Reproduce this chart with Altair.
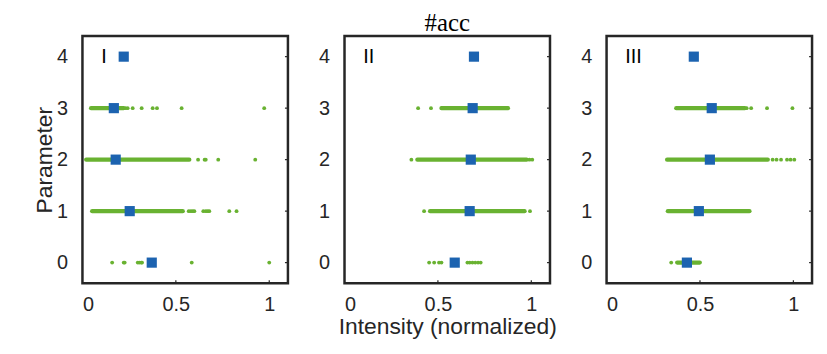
import altair as alt
import pandas as pd

# ---------------- data ----------------
PANELS = ["I", "II", "III"]
PARAMS = [0, 1, 2, 3, 4]
X_TICKS = [0, 0.5, 1]

# blue squares: value per parameter 0..4, per panel
square_I = [0.371, 0.253, 0.178, 0.168, 0.221]
square_II = [0.590, 0.670, 0.676, 0.686, 0.693]
square_III = [0.430, 0.494, 0.553, 0.563, 0.467]

# dense runs of green dots (panel, parameter, start, end)
strip_panel = ["I", "I", "I", "II", "II", "II", "III", "III", "III", "III"]
strip_param = [3, 2, 1, 3, 2, 1, 3, 2, 1, 0]
strip_start = [0.046, 0.020, 0.052, 0.519, 0.390, 0.458, 0.373, 0.324, 0.328, 0.378]
strip_end = [0.220, 0.572, 0.537, 0.875, 0.975, 0.964, 0.740, 0.863, 0.765, 0.499]

# isolated green dots per panel and parameter
dots_I = {
    0: [0.159, 0.221, 0.226, 0.296, 0.305, 0.315, 0.319, 0.585, 1.000],
    1: [0.569, 0.580, 0.590, 0.599, 0.647, 0.660, 0.670, 0.679, 0.786, 0.825],
    2: [0.619, 0.654, 0.660, 0.727, 0.925],
    3: [0.230, 0.242, 0.269, 0.317, 0.376, 0.399, 0.531, 0.973],
}
dots_II = {
    0: [0.453, 0.480, 0.506, 0.519, 0.658, 0.670, 0.685, 0.700, 0.715, 0.729],
    1: [0.426, 0.993],
    2: [0.358, 0.990, 1.005],
    3: [0.394, 0.463],
}
dots_III = {
    0: [0.346],
    2: [0.889, 0.910, 0.934, 0.966, 0.985, 1.005],
    3: [0.750, 0.774, 0.859, 0.995],
}

GREEN = "#69b231"
BLUE = "#1c63b0"
INK = "#262626"
W, H = 207, 249

squares = {"I": square_I, "II": square_II, "III": square_III}
dots = {"I": dots_I, "II": dots_II, "III": dots_III}

strips_df = pd.DataFrame({"panel": strip_panel, "param": strip_param,
                          "x0": strip_start, "x1": strip_end})

xscale = alt.Scale(domain=[0, 1.1], nice=False, zero=False)
yscale = alt.Scale(domain=[-0.4, 4.4], nice=False, zero=False)


def xenc(field, title):
    return alt.X(field, type="quantitative", scale=xscale,
                 axis=alt.Axis(values=X_TICKS, format="~g", title=title,
                               labelPadding=11, titlePadding=2))


def yenc(field, title):
    return alt.Y(field, type="quantitative", scale=yscale,
                 axis=alt.Axis(values=PARAMS, format="d", title=title,
                               labelPadding=15, titlePadding=0))


def make_panel(name, xtitle, ytitle, title=None):
    sq = pd.DataFrame({"param": PARAMS, "x": squares[name]})
    rows = []
    for p, vals in dots[name].items():
        for v in vals:
            rows.append({"param": p, "x": v})
    dt = pd.DataFrame(rows)
    st = strips_df[strips_df.panel == name]

    strip_layer = alt.Chart(st).mark_rule(
        color=GREEN, strokeWidth=4.3, strokeCap="round"
    ).encode(x=xenc("x0", xtitle), x2="x1", y=yenc("param", ytitle))

    dot_layer = alt.Chart(dt).mark_circle(
        color=GREEN, size=15, opacity=1
    ).encode(x=xenc("x", xtitle), y=yenc("param", ytitle))

    sq_layer = alt.Chart(sq).mark_square(
        color=BLUE, size=105, opacity=1
    ).encode(x=xenc("x", xtitle), y=yenc("param", ytitle))

    lab = alt.Chart(pd.DataFrame({"t": [name], "x": [0.1], "y": [4]})).mark_text(
        font="Liberation Sans", fontSize=20, color="black", align="left",
        baseline="middle"
    ).encode(x=xenc("x", xtitle), y=yenc("y", ytitle), text="t:N")

    bt = alt.Chart(pd.DataFrame({"v": X_TICKS[1:]})).mark_rule(
        color=INK, strokeWidth=1.2
    ).encode(x=xenc("v", xtitle), y=alt.value(H), y2=alt.value(H - 3))

    rt = alt.Chart(pd.DataFrame({"v": PARAMS})).mark_rule(
        color=INK, strokeWidth=1.2
    ).encode(y=yenc("v", ytitle), x=alt.value(W), x2=alt.value(W - 3))

    ch = alt.layer(strip_layer, dot_layer, sq_layer, lab, bt, rt).properties(
        width=W, height=H)
    if title is not None:
        ch = ch.properties(title=title)
    return ch


p1 = make_panel("I", None, "Parameter")
p2 = make_panel("II", "Intensity (normalized)", None,
                title=alt.TitleParams("#acc", font="Liberation Serif",
                                      fontSize=25, fontWeight="normal",
                                      color="black", offset=0))
p3 = make_panel("III", None, None)

chart = alt.hconcat(p1, p2, p3, spacing=57, bounds="flush").properties(
    padding={"left": 24, "top": 0, "right": 5, "bottom": 5}
).configure_view(
    stroke=INK, strokeWidth=2.5
).configure_axis(
    domain=False, ticks=False, grid=False,
    labelFont="Liberation Sans", labelFontSize=20, labelColor=INK,
    titleFont="Liberation Sans", titleFontSize=23, titleFontWeight="normal",
    titleColor=INK
)

chart.save("out.html", embed_options={"renderer": "svg", "actions": False})
